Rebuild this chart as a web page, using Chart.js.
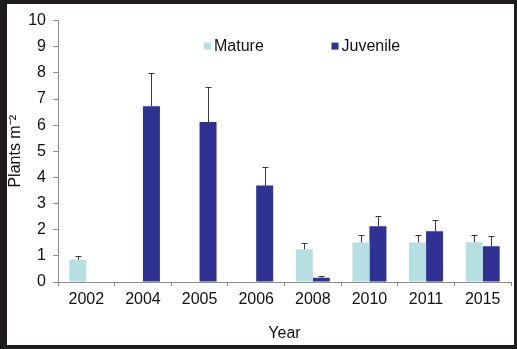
<!DOCTYPE html>
<html>
<head>
<meta charset="utf-8">
<script src="https://cdn.jsdelivr.net/npm/chart.js@4.4.1/dist/chart.umd.min.js"></script>
<style>
  html, body { margin: 0; padding: 0; background: #1e1c1d; width: 517px; height: 349px; overflow: hidden; }
  #frame { position: absolute; left: 7px; top: 4px; width: 507px; height: 341px; background: #ffffff; }
  canvas { display: block; }
</style>
</head>
<body>
<div id="frame"><canvas id="c" width="507" height="341"></canvas></div>
<script>
// ---- data ----
const years = ['2002', '2004', '2005', '2006', '2008', '2010', '2011', '2015'];
const seriesNames = ['Mature', 'Juvenile'];
const matureValues = [0.85, null, null, null, 1.25, 1.51, 1.51, 1.52];
const matureErrors = [0.14, null, null, null, 0.26, 0.30, 0.30, 0.29];
const juvenileValues = [null, 6.72, 6.12, 3.69, 0.16, 2.13, 1.94, 1.37];
const juvenileErrors = [null, 1.26, 1.33, 0.72, 0.06, 0.41, 0.42, 0.38];
const yTicks = [0, 1, 2, 3, 4, 5, 6, 7, 8, 9, 10];
const yTitle = 'Plants m\u207B\u00B2';
const xTitle = 'Year';

const COL_MATURE = '#b5dfe0';
const COL_JUV = '#2f3193';
const FONT = 'Arial, "Liberation Sans", sans-serif';
const FS = 16;

// upper-only error bars drawn through the chart's scales
const errorBarPlugin = {
  id: 'errorBars',
  afterDatasetsDraw(chart) {
    const ctx = chart.ctx;
    const yScale = chart.scales.y;
    chart.data.datasets.forEach((ds, di) => {
      const meta = chart.getDatasetMeta(di);
      meta.data.forEach((bar, i) => {
        const v = ds.data[i];
        const e = ds.errors[i];
        if (v == null || e == null) return;
        const x = Math.round(bar.x) + 0.5;
        const yTop = Math.round(yScale.getPixelForValue(v + e)) + 0.5;
        const yBase = yScale.getPixelForValue(v);
        ctx.save();
        ctx.strokeStyle = '#3a3a3a';
        ctx.lineWidth = 1;
        ctx.beginPath();
        ctx.moveTo(x, yBase);
        ctx.lineTo(x, yTop);
        ctx.moveTo(x - 3, yTop);
        ctx.lineTo(x + 3, yTop);
        ctx.stroke();
        ctx.restore();
      });
    });
  }
};

// legend inside plot area
const legendPlugin = {
  id: 'innerLegend',
  afterDraw(chart) {
    const ctx = chart.ctx;
    const a = chart.chartArea;
    const y = a.top + 25.5;
    const items = [
      { x: a.left + 146, label: seriesNames[0], color: COL_MATURE },
      { x: a.left + 273.5, label: seriesNames[1], color: COL_JUV }
    ];
    ctx.save();
    ctx.font = FS + 'px ' + FONT;
    ctx.textBaseline = 'middle';
    ctx.textAlign = 'left';
    items.forEach(it => {
      ctx.fillStyle = it.color;
      ctx.fillRect(it.x, y - 3.5, 7, 7);
      ctx.fillStyle = '#111111';
      ctx.fillText(it.label, it.x + 10, y + 0.5);
    });
    ctx.restore();
  }
};

new Chart(document.getElementById('c'), {
  type: 'bar',
  data: {
    labels: years,
    datasets: [
      { label: seriesNames[0], data: matureValues, errors: matureErrors, backgroundColor: COL_MATURE,
        categoryPercentage: 0.6, barPercentage: 1.0 },
      { label: seriesNames[1], data: juvenileValues, errors: juvenileErrors, backgroundColor: COL_JUV,
        categoryPercentage: 0.6, barPercentage: 1.0 }
    ]
  },
  options: {
    responsive: false,
    animation: false,
    devicePixelRatio: 1,
    layout: { padding: { top: 15, right: 3, left: 0, bottom: 0 } },
    plugins: { legend: { display: false }, tooltip: { enabled: false }, title: { display: false } },
    scales: {
      x: {
        grid: { display: true, drawOnChartArea: false, drawTicks: true, tickLength: 4, color: '#8c8c8c', offset: true },
        border: { display: true, color: '#8c8c8c', width: 1 },
        ticks: { color: '#111111', font: { family: FONT, size: FS }, padding: 4, maxRotation: 0, autoSkip: false },
        title: { display: true, text: xTitle, color: '#111111', font: { family: FONT, size: FS }, padding: { top: 0, bottom: 2 } },
        afterFit(scale) { scale.height = 63; }
      },
      y: {
        min: 0, max: 10,
        afterBuildTicks(scale) { scale.ticks = yTicks.map(v => ({ value: v })); },
        grid: { display: true, drawOnChartArea: false, drawTicks: true, tickLength: 5, color: '#8c8c8c' },
        border: { display: true, color: '#8c8c8c', width: 1 },
        ticks: { color: '#111111', font: { family: FONT, size: FS }, padding: 7 },
        title: { display: true, text: yTitle, color: '#111111', font: { family: FONT, size: FS }, padding: { top: -1, bottom: 0 } },
        afterFit(scale) { scale.width = 51; }
      }
    }
  },
  plugins: [errorBarPlugin, legendPlugin]
});
</script>
</body>
</html>
